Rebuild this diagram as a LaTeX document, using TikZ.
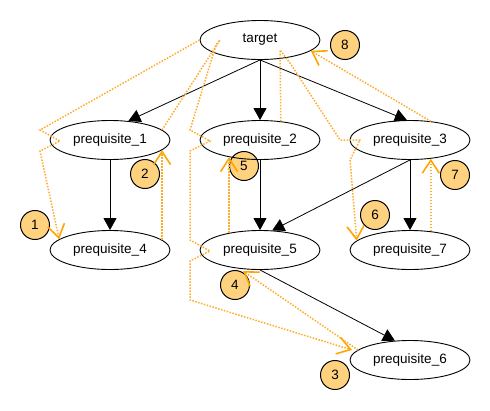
\documentclass[tikz,border=0pt]{standalone}
\usepackage{fontspec}
\setmainfont{Liberation Sans}
\usetikzlibrary{arrows.meta, shapes.geometric}
\definecolor{traceorange}{RGB}{255,172,45}
\definecolor{tiporange}{RGB}{255,165,0}
\definecolor{markfill}{RGB}{255,210,128}
\tikzset{
  graph node/.style={
    ellipse,
    draw,
    line width=0.9pt,
    minimum width=120pt,
    minimum height=39pt,
    inner sep=0pt,
    font=\fontsize{13.5}{16}\selectfont,
  },
  order mark/.style={
    circle,
    draw=black,
    line width=1pt,
    fill=markfill,
    minimum size=29pt,
    inner sep=0pt,
    font=\fontsize{13.5}{16}\selectfont,
  },
  dep edge/.style={-{Triangle[length=12pt,width=13pt]}, line width=0.8pt},
  trace/.style={
    traceorange,
    line width=1.5pt,
    dash pattern=on 1.5pt off 1.5pt,
  },
  trace tip/.style={
    trace,
    -{Straight Barb[length=13pt,width=17pt,line width=1.6pt,color=tiporange]},
  },
}
\begin{document}
\begin{tikzpicture}[x=1pt, y=-1pt]
      \useasboundingbox (0,0) rectangle (490,410);

      \node[order mark] (m1) at (35,225) {1};
      \node[order mark] (m2) at (145,174) {2};
      \node[order mark] (m3) at (335,375) {3};
      \node[order mark] (m4) at (235,285) {4};
      \node[order mark] (m5) at (244,166) {5};
      \node[order mark] (m6) at (375,215) {6};
      \node[order mark] (m7) at (455,175) {7};
      \node[order mark] (m8) at (345,45)  {8};

      \node[graph node] (target) at (260,40)  {target};
      \node[graph node] (p1)     at (110,140) {prequisite\_1};
      \node[graph node] (p2)     at (260,140) {prequisite\_2};
      \node[graph node] (p3)     at (410,140) {prequisite\_3};
      \node[graph node] (p4)     at (110,250) {prequisite\_4};
      \node[graph node] (p5)     at (260,250) {prequisite\_5};
      \node[graph node] (p7)     at (410,250) {prequisite\_7};
      \node[graph node] (p6)     at (410,360) {prequisite\_6};

      \path[dep edge] (target.south) edge (p1.46);
      \path[dep edge] (target.south) edge (p2.north);
      \path[dep edge] (target.south) edge (p3.99);
      \path[dep edge] (p1.south)     edge (p4.north);
      \path[dep edge] (p2.south)     edge (p5.north);
      \path[dep edge] (p3.south)     edge (p5.58);
      \path[dep edge] (p3.south)     edge (p7.north);
      \path[dep edge] (p5.south)     edge (p6.128);

      \draw[trace tip] (target.west) -- (40,130) -- (60,141) -- (40,151) -- (p4.168);
      \draw[trace tip] (p4.11) -- (p1.-11);
      \draw[trace tip] (p1.11) -- (220,40) -- (216,45) -- (190,130) -- (210,141) -- (190,151)
        -- (190,240) -- (210,251) -- (190,261) -- (190,300) -- (352,350);
      \draw[trace tip] (358,350) -- (243,271);
      \draw[trace tip] (p5.151) -- (p2.-151);
      \draw[trace tip] (p2.42) -- (280,50) -- (290,63) -- (340,140) -- (360,140) -- (350,160) -- (p7.170);
      \draw[trace tip] (p7.42) -- (p3.-42);
      \draw[trace tip] (p3.42) -- (target.-12);
    \end{tikzpicture}
\end{document}
